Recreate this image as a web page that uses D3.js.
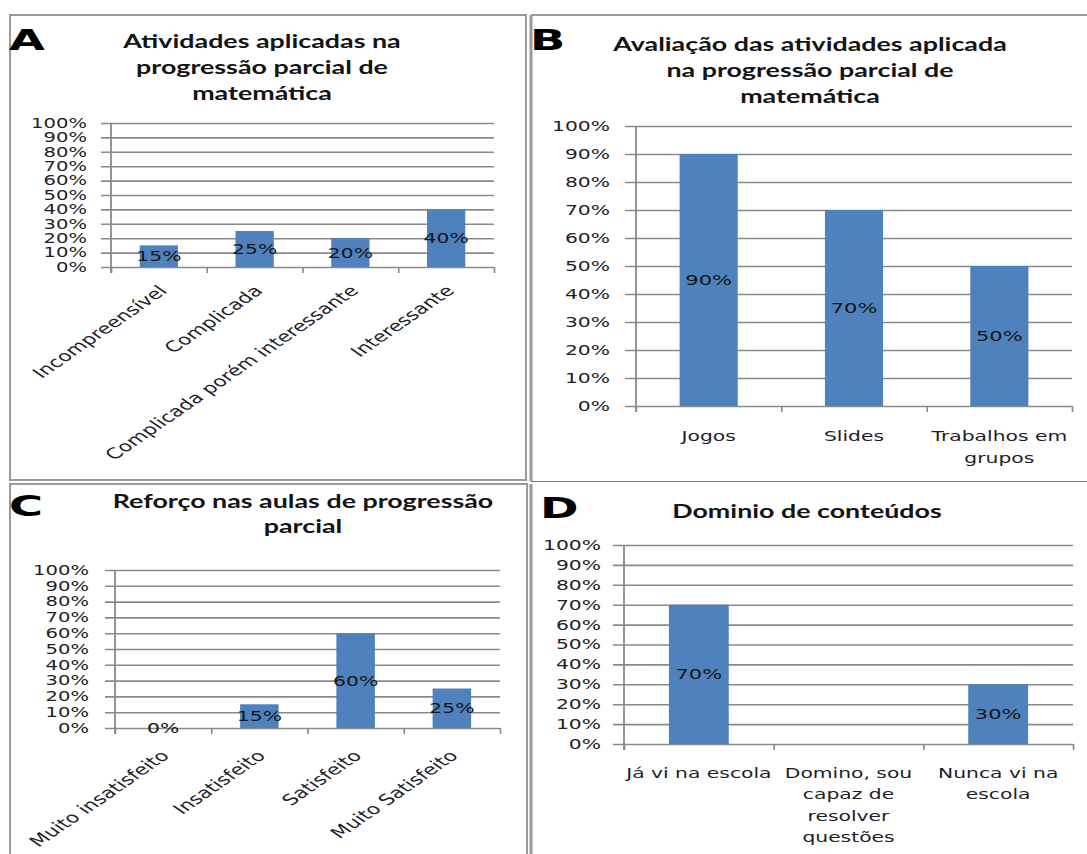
<!DOCTYPE html>
<html>
<head>
<meta charset="utf-8">
<script src="https://cdn.jsdelivr.net/npm/d3@7"></script>
<style>
  body { margin: 0; background: #fff; }
  svg { display: block; }
</style>
</head>
<body>
<svg id="chart" width="1087" height="854"></svg>
<script>
// ---- data ----
const yTicks = [0, 10, 20, 30, 40, 50, 60, 70, 80, 90, 100];

const titleA = ["Atividades aplicadas na", "progressão parcial de", "matemática"];
const catsA = ["Incompreensível", "Complicada", "Complicada porém interessante", "Interessante"];
const valsA = [15, 25, 20, 40];

const titleB = ["Avaliação das atividades aplicada", "na progressão parcial de", "matemática"];
const catsB = ["Jogos", "Slides", "Trabalhos em grupos"];
const valsB = [90, 70, 50];

const titleC = ["Reforço nas aulas de progressão", "parcial"];
const catsC = ["Muito insatisfeito", "Insatisfeito", "Satisfeito", "Muito Satisfeito"];
const valsC = [0, 15, 60, 25];

const titleD = ["Dominio de conteúdos"];
const catsD = ["Já vi na escola", "Domino, sou capaz de resolver questões", "Nunca vi na escola"];
const valsD = [70, null, 30];

// ---- style ----
const SX = 1.45;          // horizontal text stretch
const TITLE_SX = 1.45;
const LETTER_SX = 1.6;
const FONT = "'DejaVu Sans', Verdana, sans-serif";
const TITLE_FONT = "Lato, 'Open Sans', sans-serif";
const LETTER_FONT = "'DejaVu Sans', Arial, sans-serif";
const BAR = "#4f81bd";
const GRID = "#8a8a8a";
const BORDER = "#9a9a9a";
const TXT = "#1e1e28";

const svg = d3.select("#chart");
svg.append("rect").attr("width", 1087).attr("height", 854).attr("fill", "#fff");

// ---- panel frames ----
const frames = svg.append("g").attr("fill", "none").attr("stroke", BORDER).attr("stroke-width", 2);
frames.append("rect").attr("x", 10).attr("y", 15).attr("width", 516).attr("height", 465);
frames.append("line").attr("x1", 531).attr("x2", 1090).attr("y1", 15).attr("y2", 15);
frames.append("line").attr("x1", 531).attr("x2", 531).attr("y1", 15).attr("y2", 481).attr("stroke-width", 3);
frames.append("line").attr("x1", 531).attr("x2", 1090).attr("y1", 481.5).attr("y2", 481.5).attr("stroke", "#777").attr("stroke-width", 1);
frames.append("rect").attr("x", 10).attr("y", 484).attr("width", 517).attr("height", 380);
frames.append("line").attr("x1", 531).attr("x2", 531).attr("y1", 484).attr("y2", 860).attr("stroke-width", 3);

// ---- helpers ----
function stretchedText(parent, str, x, y, opts) {
  const t = parent.append("text")
    .attr("transform", `translate(${x},${y}) scale(${opts.sx || SX},1)` + (opts.rotate ? ` rotate(${opts.rotate})` : ""))
    .attr("font-family", opts.family || FONT)
    .attr("font-size", opts.size)
    .attr("font-weight", opts.weight || "normal")
    .attr("fill", opts.fill || TXT)
    .attr("text-anchor", opts.anchor || "middle")
    .attr("dy", opts.dy || "0.35em")
    .text(str);
  return t;
}

function wrapLines(str, maxW, size) {
  const probe = svg.append("text").attr("font-family", FONT).attr("font-size", size);
  const words = str.split(" ");
  const lines = [];
  let cur = "";
  words.forEach(w => {
    const test = cur ? cur + " " + w : w;
    probe.text(test);
    if (probe.node().getComputedTextLength() > maxW && cur) {
      lines.push(cur);
      cur = w;
    } else cur = test;
  });
  if (cur) lines.push(cur);
  probe.remove();
  return lines;
}

function drawPanel(p) {
  const g = svg.append("g");
  const n = p.cats.length;
  const y = d3.scaleLinear().domain([0, 100]).range([p.yBot, p.yTop]);
  const xb = d3.scaleBand().domain(p.cats).range([p.x0, p.x1]).paddingInner(0.6).paddingOuter(0.3);
  const xt = d3.scaleLinear().domain([0, n]).range([p.x0, p.x1]);

  // panel letter
  stretchedText(g, p.letter, p.letterX, p.letterY,
    { size: 29, weight: "bold", family: LETTER_FONT, sx: LETTER_SX, anchor: "start", dy: 0, fill: "#000" });

  // title
  p.title.forEach((line, i) => {
    stretchedText(g, line, p.titleX, p.titleY + i * p.titleLH,
      { size: p.titleSize, weight: "bold", family: TITLE_FONT, sx: TITLE_SX, fill: "#141414" });
  });

  // horizontal gridlines (start at the tick mark, run to the plot edge)
  g.append("g").attr("transform", `translate(${p.x0 - p.tickLen},0)`)
    .call(d3.axisLeft(y).tickValues(yTicks).tickSize(-(p.x1 - p.x0 + p.tickLen)).tickFormat(""))
    .call(s => s.select(".domain").remove())
    .selectAll("line").attr("stroke", GRID).attr("stroke-width", 1.6);

  // value axis labels
  const ya = g.append("g").attr("transform", `translate(${p.x0},0)`)
    .call(d3.axisLeft(y).tickValues(yTicks).tickSize(0).tickPadding(p.x0 - p.labelRight).tickFormat(d => d + "%"));
  ya.select(".domain").remove();
  ya.selectAll("text").each(function () {
    const t = d3.select(this);
    t.attr("x", +t.attr("x") / SX).attr("transform", `scale(${SX},1)`);
  }).attr("font-size", p.tickSize).attr("font-family", FONT).attr("fill", TXT);

  // bars
  const data = p.cats.map((c, i) => ({ c, v: p.vals[i] })).filter(d => d.v !== null);
  g.append("g").selectAll("rect").data(data).join("rect")
    .attr("x", d => xb(d.c)).attr("width", xb.bandwidth())
    .attr("y", d => y(d.v)).attr("height", d => y(0) - y(d.v))
    .attr("fill", BAR);

  // category tick marks
  g.append("g").attr("transform", `translate(0,${p.yBot})`)
    .call(d3.axisBottom(xt).tickValues(d3.range(n + 1)).tickSize(6).tickFormat(""))
    .call(s => s.select(".domain").remove())
    .selectAll("line").attr("stroke", GRID).attr("stroke-width", 1.6);

  // vertical axis line
  g.append("line").attr("x1", p.x0).attr("x2", p.x0)
    .attr("y1", y(100)).attr("y2", y(0) + 6)
    .attr("stroke", GRID).attr("stroke-width", 1.8);

  // value labels centred in bars
  const lab = g.append("g");
  data.forEach(d => {
    stretchedText(lab, d.v + "%", xb(d.c) + xb.bandwidth() / 2, (y(d.v) + y(0)) / 2,
      { size: p.tickSize + 0.5, fill: "#151515" });
  });

  // category labels
  const cl = g.append("g");
  p.cats.forEach(c => {
    const cx = xb(c) + xb.bandwidth() / 2;
    if (p.rotate) {
      stretchedText(cl, c, cx + p.catDx, p.yBot + p.catDy,
        { size: p.catSize, anchor: "end", rotate: -45, dy: "0.35em" });
    } else {
      const lines = wrapLines(c, (xt(1) - xt(0)) / SX, p.catSize);
      const t = cl.append("text")
        .attr("transform", `translate(${cx},${p.catY}) scale(${SX},1)`)
        .attr("font-family", FONT).attr("font-size", p.catSize)
        .attr("fill", TXT).attr("text-anchor", "middle");
      lines.forEach((ln, i) => {
        t.append("tspan").attr("x", 0).attr("y", i * p.catLH).attr("dy", "0.35em").text(ln);
      });
    }
  });
}

drawPanel({
  letter: "A", letterX: 9, letterY: 40,
  title: titleA, titleX: 262, titleY: 42, titleLH: 26, titleSize: 18.5,
  cats: catsA, vals: valsA,
  x0: 111, x1: 494, yTop: 123, yBot: 267, tickLen: 10, labelRight: 87, tickSize: 13.5,
  rotate: true, catSize: 15, catDx: 4, catDy: 21
});

drawPanel({
  letter: "B", letterX: 530, letterY: 40,
  title: titleB, titleX: 810, titleY: 45, titleLH: 26, titleSize: 18.5,
  cats: catsB, vals: valsB,
  x0: 636, x1: 1072, yTop: 126, yBot: 406, tickLen: 11, labelRight: 610, tickSize: 14,
  rotate: false, catSize: 14, catY: 436, catLH: 22
});

drawPanel({
  letter: "C", letterX: 9, letterY: 506,
  title: titleC, titleX: 303, titleY: 502, titleLH: 25, titleSize: 18.5,
  cats: catsC, vals: valsC,
  x0: 115, x1: 500, yTop: 570, yBot: 728, tickLen: 10, labelRight: 89, tickSize: 13.5,
  rotate: true, catSize: 15, catDx: 2, catDy: 25
});

drawPanel({
  letter: "D", letterX: 540, letterY: 508,
  title: titleD, titleX: 807, titleY: 512, titleLH: 25, titleSize: 18.5,
  cats: catsD, vals: valsD,
  x0: 624, x1: 1073, yTop: 545, yBot: 744, tickLen: 11, labelRight: 601, tickSize: 14,
  rotate: false, catSize: 14, catY: 773, catLH: 21.5
});
</script>
</body>
</html>
